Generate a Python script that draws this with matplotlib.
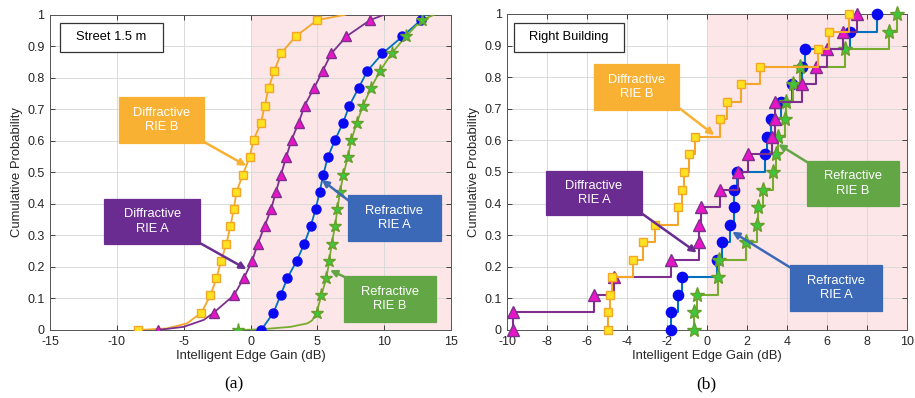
import matplotlib
matplotlib.use("Agg")
import matplotlib.pyplot as plt
from matplotlib.patches import Rectangle

plt.rcParams['font.family'] = ['Liberation Sans', 'DejaVu Sans']

# ---------------- data: panel (a) Street 1.5 m (smooth CDF curves) ----------------
a_marker_y = [0, 0.055, 0.11, 0.164, 0.219, 0.274, 0.329, 0.384, 0.438, 0.493,
              0.548, 0.603, 0.657, 0.712, 0.767, 0.822, 0.877, 0.931, 0.983]

a_diffB_x = [-8.4, -3.67, -3.0, -2.55, -2.2, -1.8, -1.5, -1.25, -1.05, -0.57,
             -0.07, 0.23, 0.78, 1.07, 1.35, 1.78, 2.28, 3.37, 5.0]
a_diffA_x = [-6.93, -2.75, -1.25, -0.5, 0.12, 0.55, 1.05, 1.55, 1.9, 2.28,
             2.67, 3.07, 3.6, 4.05, 4.75, 5.4, 6.05, 7.17, 8.95]
a_refrA_x = [0.8, 1.72, 2.25, 2.75, 3.45, 4.03, 4.5, 4.88, 5.17, 5.45,
             5.78, 6.33, 6.92, 7.4, 8.08, 8.75, 9.87, 11.37, 12.75]
a_refrB_x = [-0.9, 4.95, 5.3, 5.67, 5.9, 6.07, 6.33, 6.5, 6.7, 6.95,
             7.28, 7.55, 7.95, 8.43, 9.0, 9.7, 10.55, 11.62, 12.8]

# extra curve points between markers (tails): (x, y)
a_diffB_tail = [(-6.25, 0.005), (-4.75, 0.021)]
a_diffA_tail = [(-5.0, 0.01), (-3.5, 0.032)]
a_refrA_tail = []
a_refrB_tail = [(0.75, 0.002), (3.0, 0.01), (4.25, 0.021), (4.6, 0.03)]
a_diffB_end = (7.1, 1.0)
a_diffA_end = (10.0, 1.0)
a_refrA_end = (13.1, 1.0)
a_refrB_end = (13.75, 1.0)

# ---------------- data: panel (b) Right Building (empirical CDF stairs) -------------
b_y = [0, 0.056, 0.111, 0.167, 0.222, 0.278, 0.333, 0.389, 0.444, 0.5,
       0.556, 0.611, 0.667, 0.722, 0.778, 0.833, 0.889, 0.944, 1.0]
b_diffB_x = [-4.95, -4.95, -4.87, -4.78, -3.73, -3.2, -2.62, -1.48, -1.28, -1.18,
             -0.9, -0.62, 0.63, 0.97, 1.67, 2.63, 5.52, 6.1, 7.08]
b_diffA_x = [-9.7, -9.7, -5.65, -4.65, -1.83, -0.4, -0.4, -0.32, 0.63, 1.55,
             2.05, 3.25, 3.37, 3.37, 4.72, 5.43, 5.97, 6.8, 7.5]
b_refrA_x = [-1.82, -1.82, -1.45, -1.28, 0.5, 0.75, 1.13, 1.33, 1.35, 1.5,
             2.9, 3.0, 3.2, 3.68, 4.22, 4.72, 4.88, 7.13, 8.5]
b_refrB_x = [-0.65, -0.65, -0.52, 0.55, 0.6, 1.93, 2.47, 2.55, 2.8, 3.28,
             3.42, 3.55, 3.9, 3.92, 4.3, 4.63, 6.88, 9.1, 9.47]

# ---------------- styles ----------------
C_OR_LINE, C_OR_FACE = '#F4A62A', '#FFE21F'
C_PU_LINE, C_PU_FACE = '#7E2F8E', '#E815C8'
C_BL_LINE, C_BL_FACE = '#0072BD', '#0A0AF0'
C_GR_LINE, C_GR_FACE = '#77AC30', '#3CC83C'
BOX_OR, BOX_PU, BOX_BL, BOX_GR = '#F8B133', '#6B2C91', '#3B69B7', '#62A645'
PINK = '#FCE6E8'

W, H = 915, 398
fig = plt.figure(figsize=(W / 100, H / 100), dpi=100)
ax1 = fig.add_axes([50 / W, (H - 330) / H, 401 / W, 315.3 / H])
ax2 = fig.add_axes([507.3 / W, (H - 330) / H, 400 / W, 316 / H])


def style_axes(ax, xlim, xticks):
    ax.set_xlim(*xlim)
    ax.set_ylim(0, 1)
    ax.set_xticks(xticks)
    ax.set_xticklabels([f'{t:g}' for t in xticks])
    yt = [i / 10 for i in range(11)]
    ax.set_yticks(yt)
    ax.set_yticklabels(['0'] + [f'{v:.1f}' for v in yt[1:-1]] + ['1'])
    ax.axvspan(0, xlim[1], color=PINK, zorder=0, lw=0)
    ax.set_axisbelow(True)
    ax.grid(True, color='#DADADA', lw=0.7, zorder=0.5)
    ax.tick_params(direction='in', length=3.5, width=0.6, top=True, right=True,
                   labelsize=9, colors='#262626', pad=4)
    for s in ax.spines.values():
        s.set_color('#555555')
        s.set_linewidth(0.7)
    ax.set_xlabel('Intelligent Edge Gain (dB)', fontsize=9.4, color='#262626', labelpad=2)
    ax.set_ylabel('Cumulative Probability', fontsize=9.4, color='#262626', labelpad=3)


style_axes(ax1, (-15, 15), list(range(-15, 16, 5)))
style_axes(ax2, (-10, 10), list(range(-10, 11, 2)))


def smooth_series(ax, xs, tail, end, marker, lc, fc, ms, mec=None, z=3):
    pts = [(xs[0], a_marker_y[0])] + tail + list(zip(xs[1:], a_marker_y[1:])) + [end]
    px = [p[0] for p in pts]
    py = [p[1] for p in pts]
    idx = [0] + list(range(len(tail) + 1, len(tail) + len(xs)))
    ax.plot(px, py, color=lc, lw=1.3, zorder=z)
    ax.plot([px[i] for i in idx], [py[i] for i in idx], ls='none', marker=marker,
            ms=ms, mfc=fc, mec=mec or lc, mew=1.0, zorder=z + 0.1)


smooth_series(ax1, a_diffB_x, a_diffB_tail, a_diffB_end, 's', C_OR_LINE, C_OR_FACE, 5.2)
smooth_series(ax1, a_diffA_x, a_diffA_tail, a_diffA_end, '^', C_PU_LINE, C_PU_FACE, 7.5)
smooth_series(ax1, a_refrA_x, a_refrA_tail, a_refrA_end, 'o', C_BL_LINE, C_BL_FACE, 6.5, mec=C_BL_FACE)
smooth_series(ax1, a_refrB_x, a_refrB_tail, a_refrB_end, '*', C_GR_LINE, C_GR_FACE, 9.5, mec='#6A9E2B')


def stair_series(ax, xs, marker, lc, fc, ms, mec=None, z=3):
    ax.plot(xs, b_y, drawstyle='steps-post', color=lc, lw=1.5, zorder=z)
    ax.plot(xs, b_y, ls='none', marker=marker, ms=ms, mfc=fc, mec=mec or lc,
            mew=1.0, zorder=z + 0.1, clip_on=False)


stair_series(ax2, b_refrA_x, 'o', C_BL_LINE, C_BL_FACE, 7.4, mec=C_BL_FACE, z=3)
stair_series(ax2, b_refrB_x, '*', C_GR_LINE, C_GR_FACE, 11, mec='#6A9E2B', z=4)
stair_series(ax2, b_diffA_x, '^', C_PU_LINE, C_PU_FACE, 8.5, z=5)
stair_series(ax2, b_diffB_x, 's', C_OR_LINE, C_OR_FACE, 5.8, z=6)


def label_box(ax, x0, x1, y0, y1, text, fc, tc='white', ec=None):
    ax.add_patch(Rectangle((x0, y0), x1 - x0, y1 - y0, facecolor=fc,
                           edgecolor=ec or fc, lw=0.9, zorder=10))
    ax.text((x0 + x1) / 2, (y0 + y1) / 2, text, ha='center', va='center',
            color=tc, fontsize=9.3, zorder=11, linespacing=1.25)


def arrow(ax, tail, tip, color):
    ax.annotate('', xy=tip, xytext=tail,
                arrowprops=dict(arrowstyle='-|>', color=color, lw=1.8,
                                mutation_scale=10, shrinkA=0, shrinkB=0),
                zorder=9)


# panel (a) annotations
label_box(ax1, -14.25, -6.53, 0.882, 0.974, 'Street 1.5 m', 'white', tc='black', ec='#333333')
label_box(ax1, -9.83, -3.45, 0.593, 0.739, 'Diffractive\nRIE B', BOX_OR)
arrow(ax1, (-3.5, 0.597), (-0.32, 0.521), BOX_OR)
label_box(ax1, -10.95, -3.75, 0.273, 0.415, 'Diffractive\nRIE A', BOX_PU)
arrow(ax1, (-3.75, 0.275), (-0.3, 0.193), BOX_PU)
label_box(ax1, 7.28, 14.25, 0.282, 0.428, 'Refractive\nRIE A', BOX_BL)
arrow(ax1, (7.35, 0.41), (5.33, 0.476), BOX_BL)
label_box(ax1, 6.98, 13.88, 0.025, 0.171, 'Refractive\nRIE B', BOX_GR)
arrow(ax1, (7.0, 0.169), (5.95, 0.19), BOX_GR)

# panel (b) annotations
label_box(ax2, -9.67, -4.17, 0.88, 0.972, 'Right Building', 'white', tc='black', ec='#333333')
label_box(ax2, -5.67, -1.42, 0.696, 0.842, 'Diffractive\nRIE B', BOX_OR)
arrow(ax2, (-1.42, 0.703), (0.35, 0.617), BOX_OR)
label_box(ax2, -8.07, -3.27, 0.364, 0.503, 'Diffractive\nRIE A', BOX_PU)
arrow(ax2, (-3.28, 0.369), (-0.53, 0.245), BOX_PU)
label_box(ax2, 4.99, 9.58, 0.392, 0.535, 'Refractive\nRIE B', BOX_GR)
arrow(ax2, (5.0, 0.531), (3.55, 0.588), BOX_GR)
label_box(ax2, 4.14, 8.74, 0.06, 0.206, 'Refractive\nRIE A', BOX_BL)
arrow(ax2, (4.14, 0.198), (1.25, 0.311), BOX_BL)

fig.text(234 / W, 1 - 384 / H, '(a)', ha='center', va='center', fontsize=12.5,
         family=['Liberation Serif', 'DejaVu Serif'])
fig.text(706 / W, 1 - 384 / H, '(b)', ha='center', va='center', fontsize=12.5,
         family=['Liberation Serif', 'DejaVu Serif'])

fig.savefig('out.png', dpi=100)
